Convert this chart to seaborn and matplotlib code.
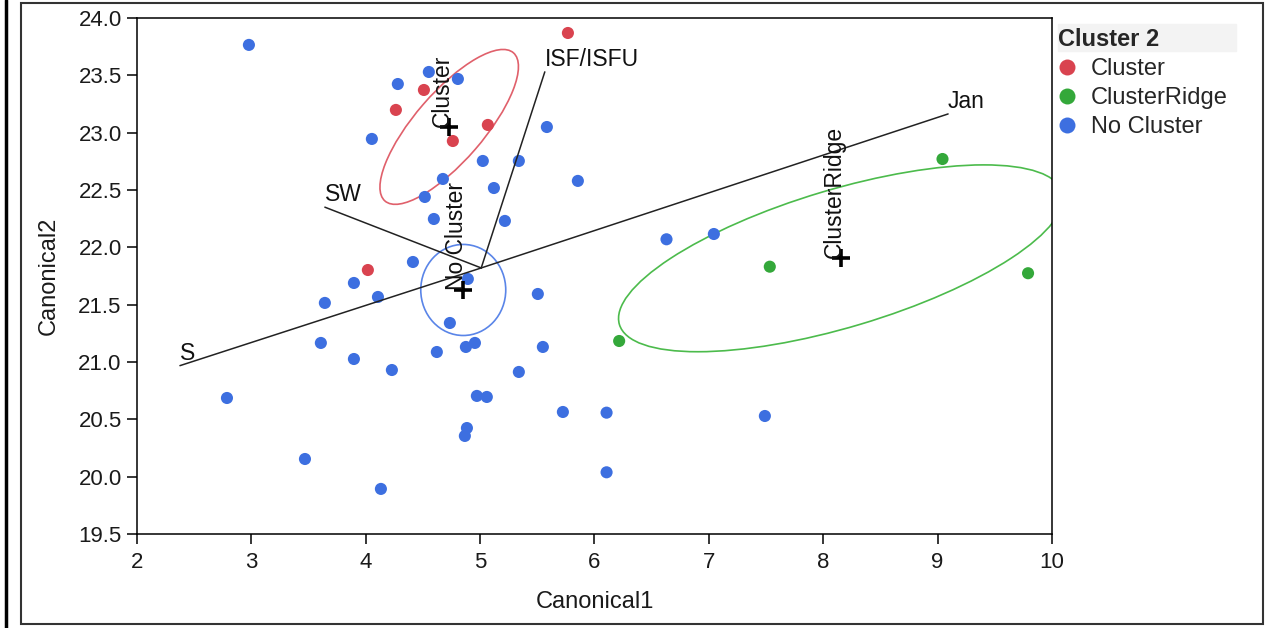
import seaborn as sns
import matplotlib.pyplot as plt
import pandas as pd
import numpy as np
from matplotlib.patches import Ellipse, Rectangle
from matplotlib.lines import Line2D

# ---- data ----
cluster_x = [5.768, 4.509, 4.264, 4.762, 5.068, 4.019]
cluster_y = [23.869, 23.372, 23.198, 22.927, 23.067, 21.802]

ridge_x = [9.043, 7.533, 6.216, 9.791]
ridge_y = [22.770, 21.831, 21.183, 21.774]

none_x = [2.979, 4.552, 4.806, 4.281, 5.584, 4.054, 5.024, 5.339, 4.675, 5.855,
          5.121, 4.517, 4.596, 5.217, 4.413, 4.893, 3.897, 4.107, 3.643, 5.505,
          4.736, 3.608, 3.897, 4.622, 4.876, 4.955, 5.549, 4.229, 5.339, 2.787,
          4.972, 5.059, 5.724, 4.885, 4.867, 3.469, 4.133, 6.106, 6.106, 7.490,
          6.630, 7.044]
none_y = [23.765, 23.529, 23.468, 23.424, 23.049, 22.945, 22.753, 22.753, 22.596, 22.579,
          22.517, 22.439, 22.247, 22.230, 21.872, 21.724, 21.689, 21.567, 21.515, 21.593,
          21.340, 21.166, 21.026, 21.087, 21.131, 21.166, 21.131, 20.930, 20.913, 20.686,
          20.704, 20.695, 20.564, 20.424, 20.355, 20.154, 19.893, 20.558, 20.038, 20.529,
          22.070, 22.116]

groups = ["Cluster", "ClusterRidge", "No Cluster"]
colors = ["#d9434f", "#34a83a", "#3d6fe0"]
ring_colors = ["#e0606b", "#4cbb4c", "#5a85e8"]

# group means and their confidence ellipses (same order as groups)
centroid_x = [4.73, 8.154, 4.853]
centroid_y = [23.05, 21.904, 21.628]
ell_width = [1.712, 4.04, 0.743]
ell_height = [0.60, 1.20, 0.794]
ell_angle = [49, 16.6, 0]

# biplot rays
origin_x, origin_y = 5.01, 21.82
ray_names = ["SW", "ISF/ISFU", "Jan", "S"]
ray_x = [3.643, 5.566, 9.092, 2.376]
ray_y = [22.35, 23.53, 23.163, 20.968]

x_ticks = [2, 3, 4, 5, 6, 7, 8, 9, 10]
y_ticks = [19.5, 20.0, 20.5, 21.0, 21.5, 22.0, 22.5, 23.0, 23.5, 24.0]

df = pd.DataFrame({
    "Canonical1": cluster_x + ridge_x + none_x,
    "Canonical2": cluster_y + ridge_y + none_y,
    "Cluster 2": ["Cluster"] * len(cluster_x) + ["ClusterRidge"] * len(ridge_x)
                 + ["No Cluster"] * len(none_x),
})

sns.set_theme(style="ticks")
plt.rcParams['font.family'] = ['Liberation Sans', 'DejaVu Sans']
plt.rcParams['font.size'] = 16

fig = plt.figure(figsize=(12.81, 6.28), dpi=100)
ax = fig.add_axes([0.1069, 0.1497, 0.7143, 0.8217])
ax.set_zorder(1)

sns.scatterplot(data=df, x="Canonical1", y="Canonical2", hue="Cluster 2",
                hue_order=groups, palette=colors, s=76, linewidth=0,
                ax=ax, legend=False, zorder=3)

# ellipses + centroid crosses + rotated labels
for i, g in enumerate(groups):
    ax.add_patch(Ellipse((centroid_x[i], centroid_y[i]), ell_width[i], ell_height[i],
                         angle=ell_angle[i], fill=False, ec=ring_colors[i], lw=1.2, zorder=2))
    ax.plot(centroid_x[i], centroid_y[i], marker="+", color="black",
            markersize=13, mew=2.6, zorder=5)
    ax.text(centroid_x[i], centroid_y[i], g, rotation=90, rotation_mode="anchor",
            ha="left", va="baseline", fontsize=16.5, color="#111111", zorder=6)

# rays
for name, rx, ry in zip(ray_names, ray_x, ray_y):
    ax.plot([origin_x, rx], [origin_y, ry], color="#222222", lw=1.1, zorder=4)
    ax.text(rx, ry + 0.01, name, ha="left", va="bottom", fontsize=16.5, color="#111111")

ax.set_xlim(2, 10)
ax.set_ylim(19.5, 24.0)
ax.set_xticks(x_ticks)
ax.set_yticks(y_ticks)
ax.set_yticklabels([f"{v:.1f}" for v in y_ticks])
ax.tick_params(direction="out", length=7, width=1.1, colors="black",
               labelcolor="#1a1a1a", labelsize=16, pad=4)
ax.tick_params(axis="x", pad=6)
for sp in ax.spines.values():
    sp.set_visible(True)
    sp.set_color("black")
    sp.set_linewidth(1.1)
ax.set_xlabel("Canonical1", fontsize=17, color="#1a1a1a", labelpad=13)
ax.set_ylabel("Canonical2", fontsize=17, color="#1a1a1a", labelpad=13)

# legend
handles = [Line2D([], [], marker="o", linestyle="", markersize=11.5,
                  markerfacecolor=c, markeredgewidth=0) for c in colors]
fig.patches.append(Rectangle((1058 / 1281, 1 - 51 / 628), 178 / 1281, 27 / 628,
                             transform=fig.transFigure, color="#f3f3f3", zorder=0))
leg = ax.legend(handles, groups, title="Cluster 2", loc="upper left",
                bbox_to_anchor=(1058 / 1281, 1 - 28 / 628), bbox_transform=fig.transFigure,
                frameon=False, fontsize=17, title_fontsize=17, alignment="left",
                handlelength=0.8, handletextpad=0.6, labelspacing=0.3, borderpad=0,
                borderaxespad=0)
leg.get_title().set_fontweight("bold")

# outer frame lines
fig.add_artist(Line2D([6 / 1281, 6 / 1281], [0, 1], transform=fig.transFigure,
                      color="black", lw=2.5))
fig.add_artist(Rectangle((21 / 1281, 1 - 624 / 628), 1242 / 1281, 621 / 628,
                         transform=fig.transFigure, fill=False, ec="#333333", lw=1.5))

fig.savefig("out.png", dpi=100)
